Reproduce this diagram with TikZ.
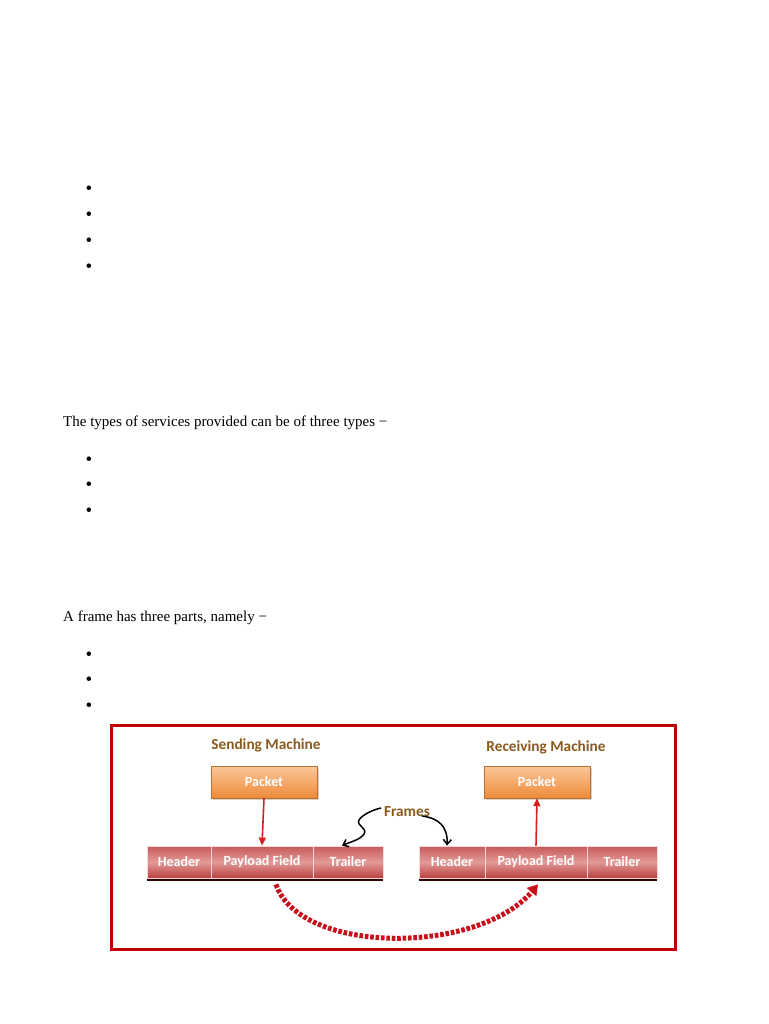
\documentclass[tikz,border=0pt]{standalone}
\usepackage{fontspec}
\setmainfont{Liberation Serif}
\newfontfamily\calib{Carlito}
\usetikzlibrary{arrows.meta,shadows}
\definecolor{framered}{HTML}{C00000}
\definecolor{titlebrown}{HTML}{8A5A1E}
\definecolor{celltop}{HTML}{C65A58}
\definecolor{cellmid}{HTML}{E39A98}
\definecolor{cellbot}{HTML}{B8403E}
\definecolor{pktop}{HTML}{FBC79A}
\definecolor{pkbot}{HTML}{EE8A3A}
\definecolor{arrowred}{HTML}{D42020}
\definecolor{dotred}{HTML}{C8101A}
\begin{document}
\begin{tikzpicture}[x=1pt,y=-1pt,
  bodytext/.style={font=\fontsize{15}{17}\selectfont, inner sep=0pt},
  bul/.style={font=\fontsize{19}{21}\selectfont, inner sep=0pt},
  title/.style={font=\calib\bfseries\fontsize{15.3}{17}\selectfont, text=titlebrown, inner sep=0pt},
  cell/.style={minimum height=32pt, inner sep=0pt, draw=white!85!red, line width=0.8pt,
    top color=celltop, bottom color=cellbot, middle color=cellmid,
    text=white, font=\calib\bfseries\fontsize{14}{16}\selectfont},
  packet/.style={minimum width=106pt, minimum height=32pt, inner sep=0pt, draw=pkbot!80!black, line width=0.4pt,
    top color=pktop, bottom color=pkbot, text=white,
    font=\calib\bfseries\fontsize{14}{16}\selectfont,
    drop shadow={shadow xshift=1.5pt, shadow yshift=-1.5pt, opacity=0.35}},
  shadowline/.style={line width=2.2pt, draw=black!80!red},
  updown/.style={draw=arrowred, line width=1.6pt, -{Triangle[length=8pt,width=7pt]}},
  blackarrow/.style={draw=black, line width=1.5pt, -{Straight Barb[length=5pt,width=8pt]}},
  dotarrow/.style={draw=dotred, line width=5pt, dash pattern=on 3.6pt off 1.8pt,
    -{Triangle[length=10pt,width=12pt]}}
]
\useasboundingbox[fill=white] (0,0) rectangle (768,1024);

% bullets block 1
\node[bul] (a1) at (89,190) {\textbullet};
\node[bul] (a2) at (89,216) {\textbullet};
\node[bul] (a3) at (89,242) {\textbullet};
\node[bul] (a4) at (89,268) {\textbullet};

\node[bodytext, anchor=base west] (t1) at (63,426) {The types of services provided can be of three types \textminus};
\node[bul] (b1) at (89,461) {\textbullet};
\node[bul] (b2) at (89,486) {\textbullet};
\node[bul] (b3) at (89,512) {\textbullet};

\node[bodytext, anchor=base west] (t2) at (63,621) {A frame has three parts, namely \textminus};
\node[bul] (c1) at (89,656) {\textbullet};
\node[bul] (c2) at (89,681) {\textbullet};
\node[bul] (c3) at (89,707) {\textbullet};

% diagram border
\draw[draw=framered, line width=3pt] (111,725) rectangle (675,949);

% titles
\node[title] (sendt) at (266,745) {Sending Machine};
\node[title] (recvt) at (546,747) {Receiving Machine};

% packets
\node[packet] (pktL) at (264,782) {Packet};
\node[packet] (pktR) at (537,782) {Packet};

% frame rows
\node[cell, minimum width=64pt] (hL) at (179,862) {Header};
\node[cell, minimum width=102pt] (pL) at (262,862) {Payload Field};
\node[cell, minimum width=70pt] (tL) at (348,862) {Trailer};
\node[cell, minimum width=66pt] (hR) at (452,862) {Header};
\node[cell, minimum width=102pt] (pR) at (536,862) {Payload Field};
\node[cell, minimum width=70pt] (tR) at (622,862) {Trailer};

\draw[shadowline] ([yshift=-1.2pt]hL.south west) -- ([yshift=-1.2pt]tL.south east);
\draw[shadowline] ([yshift=-1.2pt]hR.south west) -- ([yshift=-1.2pt]tR.south east);

% packet arrows
\draw[updown] (pktL.south) -- (pL.north);
\draw[updown] (pR.north) -- (pktR.south);

% Frames label and arrows
\node[title] (frames) at (407,812) {Frames};
\coordinate (fstart) at (381,808);
\draw[blackarrow] (fstart) .. controls (372,810) and (362,815) .. (359,820)
   .. controls (356,826) and (368,828) .. (364,834)
   .. controls (360,840) and (350,842) .. ([xshift=-6pt]tL.north);
\coordinate (fend) at (422,816);
\draw[blackarrow] (fend) .. controls (438,818) and (448,826) .. ([xshift=-5pt]hR.north);

% dotted transfer arrow
\draw[dotarrow] ([xshift=14pt,yshift=-6pt]pL.south) .. controls (300,955) and (478,955) .. ([xshift=2pt,yshift=-6pt]pR.south);
\end{tikzpicture}
\end{document}
